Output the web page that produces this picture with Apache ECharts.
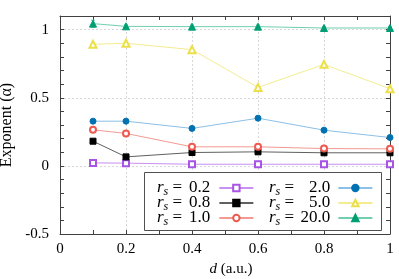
<!DOCTYPE html>
<html>
<head>
<meta charset="utf-8">
<script src="https://cdn.jsdelivr.net/npm/echarts@6/dist/echarts.min.js"></script>
<style>html,body{margin:0;padding:0;background:#fff;}#c{width:399px;height:279px;}</style>
</head>
<body>
<div id="c"></div>
<script>
const dValues = [0.1, 0.2, 0.4, 0.6, 0.8, 1.0];
const rs02 = [0.022, 0.020, 0.012, 0.012, 0.012, 0.012];
const rs08 = [0.181, 0.066, 0.098, 0.103, 0.096, 0.096];
const rs10 = [0.265, 0.238, 0.140, 0.140, 0.127, 0.125];
const rs20 = [0.328, 0.328, 0.275, 0.350, 0.262, 0.208];
const rs50 = [0.892, 0.900, 0.853, 0.576, 0.745, 0.566];
const rs200 = [1.044, 1.024, 1.022, 1.022, 1.012, 1.012];
const err02 = [0.006, 0.006, 0.006, 0.006, 0.006, 0.006];
const err08 = [0.008, 0.008, 0.008, 0.008, 0.008, 0.008];
const err10 = [0.008, 0.008, 0.008, 0.008, 0.008, 0.008];
const err20 = [0.008, 0.008, 0.008, 0.008, 0.008, 0.008];
const err50 = [0.012, 0.016, 0.020, 0.012, 0.016, 0.012];
const err200 = [0.025, 0.012, 0.012, 0.012, 0.012, 0.012];
const legendCol1 = ['0.2', '0.8', '1.0'];
const legendCol2 = ['2.0', '5.0', '20.0'];
const yTickLabels = ['-0.5', '0', '0.5', '1'];
const xTickLabels = ['0', '0.2', '0.4', '0.6', '0.8', '1'];

const FONT = 'Liberation Serif';
const styles = {
  '0.2': {vals: rs02, err: err02, symbol: 'emptyRect', mark: '#a855e6', line: '#c890f0'},
  '0.8': {vals: rs08, err: err08, symbol: 'rect', mark: '#000000', line: '#606060'},
  '1.0': {vals: rs10, err: err10, symbol: 'emptyCircle', mark: '#ee5a50', line: '#f29a92'},
  '2.0': {vals: rs20, err: err20, symbol: 'circle', mark: '#0072b2', line: '#8cc0e6'},
  '5.0': {vals: rs50, err: err50, symbol: 'emptyTriangle', mark: '#ece04a', line: '#f4ec90'},
  '20.0': {vals: rs200, err: err200, symbol: 'triangle', mark: '#009e73', line: '#70cfae'}
};

const series = [];
Object.keys(styles).forEach(name => {
  const s = styles[name];
  series.push({
    name: name, type: 'line', xAxisIndex: 0, yAxisIndex: 0,
    data: dValues.map((d, i) => [d, s.vals[i]]),
    symbol: s.symbol, symbolSize: s.symbol.indexOf('riangle') >= 0 ? 7 : 6,
    itemStyle: {color: s.mark, borderColor: s.mark, borderWidth: 1},
    lineStyle: {color: s.line, width: 1},
    z: 3
  });
  series.push({
    name: 'err' + name, type: 'custom', xAxisIndex: 0, yAxisIndex: 0,
    data: dValues.map((d, i) => [d, s.vals[i], s.err[i]]),
    renderItem: function (params, api) {
      const x = api.value(0), y = api.value(1), e = api.value(2);
      const p1 = api.coord([x, y + e]), p2 = api.coord([x, y - e]);
      const st = {stroke: s.line, lineWidth: 1};
      return {type: 'group', children: [
        {type: 'line', shape: {x1: p1[0], y1: p1[1], x2: p2[0], y2: p2[1]}, style: st},
        {type: 'line', shape: {x1: p1[0] - 2, y1: p1[1], x2: p1[0] + 2, y2: p1[1]}, style: st},
        {type: 'line', shape: {x1: p2[0] - 2, y1: p2[1], x2: p2[0] + 2, y2: p2[1]}, style: st}
      ]};
    },
    z: 2
  });
});

const near = (v, step) => Math.abs(v / step - Math.round(v / step)) < 1e-6;
const legendRich = {
  r: {fontFamily: FONT, fontStyle: 'italic', fontSize: 17, lineHeight: 16, color: '#000'},
  s: {fontFamily: FONT, fontStyle: 'italic', fontSize: 12, lineHeight: 8, color: '#000', padding: [8, 0, 0, 0]},
  e: {fontFamily: FONT, fontSize: 17, lineHeight: 16, color: '#000'},
  v: {fontFamily: FONT, fontSize: 17, lineHeight: 16, color: '#000', align: 'right'}
};
function legendFmt(width) {
  return function (name) { return '{r|r}{s|s}{e| = }{v' + width + '|' + name + '}'; };
}
const rich1 = Object.assign({}, legendRich, {v24: Object.assign({}, legendRich.v, {width: 24, padding: [0, 4, 0, 0]})});
const rich2 = Object.assign({}, legendRich, {v32: Object.assign({}, legendRich.v, {width: 32, padding: [0, 3, 0, 0]})});
const axisLineStyle = {color: '#404040', width: 1};

const option = {
  backgroundColor: '#fff',
  animation: false,
  grid: {left: 60, right: 9, top: 16, bottom: 45, show: false, containLabel: false, outerBoundsMode: 'none'},
  xAxis: [
    {type: 'value', min: 0, max: 1, interval: 0.1, position: 'bottom',
     axisLine: {show: true, onZero: false, lineStyle: axisLineStyle},
     axisTick: {show: true, inside: true, length: 4, lineStyle: {color: '#404040'}},
     axisLabel: {fontFamily: FONT, fontSize: 15, color: '#000', margin: 8,
       formatter: v => near(v, 0.2) ? xTickLabels[Math.round(v / 0.2)] : ''},
     splitLine: {show: false},
     name: '{i|d} (a.u.)', nameLocation: 'middle', nameGap: 23,
     nameTextStyle: {fontFamily: FONT, fontSize: 15, color: '#000', padding: [0, 0, 0, 12],
       rich: {i: {fontFamily: FONT, fontStyle: 'italic', fontSize: 15, color: '#000'}}}},
    {type: 'value', min: 0, max: 1, interval: 0.1, position: 'top',
     axisLine: {show: true, onZero: false, lineStyle: axisLineStyle},
     axisTick: {show: true, inside: true, length: 4, lineStyle: {color: '#404040'}},
     axisLabel: {show: false}, splitLine: {show: false}},
    {type: 'value', min: 0, max: 1, interval: 0.2, position: 'bottom',
     axisLine: {show: false, onZero: false}, axisTick: {show: false}, axisLabel: {show: false},
     splitLine: {show: true, lineStyle: {color: '#d8d8d8', type: [2, 2], width: 1}}}
  ],
  yAxis: [
    {type: 'value', min: -0.5, max: 1.1, interval: 0.1, position: 'left',
     axisLine: {show: true, onZero: false, lineStyle: axisLineStyle},
     axisTick: {show: true, inside: true, length: 4, lineStyle: {color: '#404040'}},
     axisLabel: {fontFamily: FONT, fontSize: 15, color: '#000', margin: 11,
       formatter: v => near(v, 0.5) ? yTickLabels[Math.round((v + 0.5) / 0.5)] : ''},
     splitLine: {show: false},
     name: 'Exponent (α)', nameLocation: 'middle', nameGap: 38,
     nameTextStyle: {fontFamily: FONT, fontSize: 16, color: '#000'}},
    {type: 'value', min: -0.5, max: 1.1, interval: 0.1, position: 'right',
     axisLine: {show: true, onZero: false, lineStyle: axisLineStyle},
     axisTick: {show: true, inside: true, length: 4, lineStyle: {color: '#404040'}},
     axisLabel: {show: false}, splitLine: {show: false}},
    {type: 'value', min: -0.5, max: 1.1, interval: 0.5, position: 'left',
     axisLine: {show: false, onZero: false}, axisTick: {show: false}, axisLabel: {show: false},
     splitLine: {show: true, lineStyle: {color: '#d8d8d8', type: [2, 2], width: 1}}}
  ],
  legend: [
    {data: legendCol1, orient: 'vertical', left: 157, top: 178, align: 'right', z: 10,
     itemWidth: 34, itemHeight: 8, itemGap: -5, padding: 0,
     formatter: legendFmt(24), textStyle: {rich: rich1}},
    {data: legendCol2, orient: 'vertical', left: 269, top: 178, align: 'right', z: 10,
     itemWidth: 34, itemHeight: 8, itemGap: -5, padding: 0,
     formatter: legendFmt(32), textStyle: {rich: rich2}}
  ],
  graphic: [{type: 'rect', left: 144, top: 172, shape: {width: 237, height: 58},
    style: {fill: '#fff', stroke: '#505050', lineWidth: 1}, z: 5}],
  series: series
};
const chart = echarts.init(document.getElementById('c'), null, {renderer: 'canvas'});
chart.setOption(option);
</script>
</body>
</html>
